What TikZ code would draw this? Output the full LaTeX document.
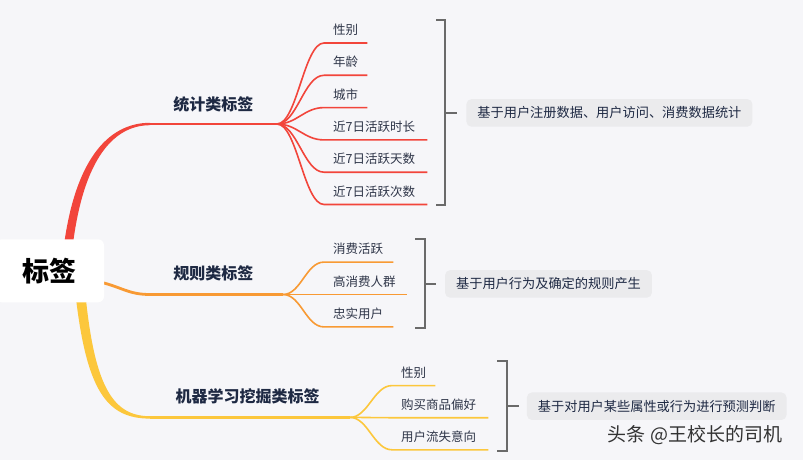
\documentclass[tikz,border=0pt]{standalone}
\usepackage{fontspec}
\newfontfamily\cjk{Noto Sans CJK SC}
\definecolor{bgcol}{HTML}{F6F6F9}
\definecolor{navy}{HTML}{1E2943}
\definecolor{leaftext}{HTML}{2E3548}
\definecolor{tagred}{HTML}{F2453B}
\definecolor{tagorange}{HTML}{F89A34}
\definecolor{tagyellow}{HTML}{FCC73C}
\definecolor{brk}{HTML}{6A6A6A}
\definecolor{notebg}{HTML}{EBEBED}
\tikzset{
  rootbox/.style={fill=white, rounded corners=6pt, minimum width=108pt, minimum height=63pt,
    font=\cjk\bfseries\fontsize{27}{30}\selectfont, text=black},
  branch/.style={font=\cjk\bfseries\fontsize{16}{18}\selectfont, text=navy, inner sep=0pt},
  leaf/.style={font=\cjk\fontsize{12.5}{14}\selectfont, text=leaftext, inner xsep=9pt,
    inner ysep=0pt, minimum height=26pt, text width=#1, align=left, anchor=south west},
  note/.style={font=\cjk\fontsize{13.2}{15}\selectfont, text=navy, fill=notebg,
    rounded corners=5pt, inner xsep=11pt, inner ysep=0pt, minimum height=27.5pt},
  bracket/.style={draw=brk, line width=2pt},
}
\begin{document}
\begin{tikzpicture}[x=1pt, y=-1pt]
  % 背景 (803 x 460)
  \fill[bgcol] (0,0) rectangle (803,460);
  \useasboundingbox (0,0) rectangle (803,460);

  % 主干分支 (根部粗, 末端细)
  \fill[tagred] (62,262) .. controls (72,160) and (108,122.8) .. (150,122.8)
    -- (150,125.2) .. controls (112,125.2) and (80,162) .. (71,262) -- cycle;
  \fill[tagyellow] (75,290) .. controls (86,390) and (106,418.6) .. (150,418.6)
    -- (150,416.2) .. controls (112,416.2) and (94,385) .. (85,290) -- cycle;
  \draw[tagorange, line width=2.8pt] (98,281.5) .. controls (122,287) and (128,294.5) .. (150,294.5);

  % 根节点
  \node[rootbox] (tags) at (50,270.8) {标签};

  % 分支节点与分叉点
  \coordinate (statbend) at (150,124);   \coordinate (statfan) at (277,124);
  \coordinate (rulebend) at (150,294.5); \coordinate (rulefan) at (283,294.5);
  \coordinate (mlbend) at (150,417.4);   \coordinate (mlfan) at (350,417.4);
  \draw[tagred, line width=2.2pt] (statbend) -- (statfan);
  \draw[tagorange, line width=2.2pt] (rulebend) -- (rulefan);
  \draw[tagyellow, line width=2.2pt] (mlbend) -- (mlfan);
  \node[branch] (stat) at (213.3,104) {统计类标签};
  \node[branch] (rule) at (213.3,273.3) {规则类标签};
  \node[branch] (ml) at (247.5,396.7) {机器学习挖掘类标签};

  % 统计类标签的叶子
  \foreach \i/\t/\w in {1/性别/25, 2/年龄/25, 3/城市/25, 4/近7日活跃时长/85,
                        5/近7日活跃天数/85, 6/近7日活跃次数/85} {
    \node[leaf=\w pt] (stat\i) at (324,10.7+32.3*\i) {\t};
    \draw[tagred, line width=1.6pt] (statfan) .. controls +(20,0) and +(-20,0) .. (stat\i.south west)
      -- (stat\i.south east);
  }

  % 规则类标签的叶子
  \foreach \i/\t/\w in {1/消费活跃/51, 2/高消费人群/65, 3/忠实用户/51} {
    \node[leaf=\w pt] (rule\i) at (324,262.1+32.4*\i-32.4) {\t};
    \draw[tagorange, line width=1.6pt] (rulefan) .. controls +(18,0) and +(-18,0) .. (rule\i.south west)
      -- (rule\i.south east);
  }

  % 机器学习挖掘类标签的叶子
  \foreach \i/\t/\w in {1/性别/25, 2/购买商品偏好/78, 3/用户流失意向/78} {
    \node[leaf=\w pt] (ml\i) at (392,353.5+32.1*\i) {\t};
    \draw[tagyellow, line width=1.6pt] (mlfan) .. controls +(18,0) and +(-18,0) .. (ml\i.south west)
      -- (ml\i.south east);
  }

  % 说明框
  \node[note] (statnote) at (609.4,112.9) {基于用户注册数据、用户访问、消费数据统计};
  \node[note] (rulenote) at (548.5,283.9) {基于用户行为及确定的规则产生};
  \node[note] (mlnote) at (656.7,406.2) {基于对用户某些属性或行为进行预测判断};

  % 括号
  \draw[bracket] (436,20) -- (445,20) -- (445,205) -- (436,205);
  \draw[bracket] (445,112.9) -- ([xshift=-9pt]statnote.west);
  \draw[bracket] (415,239) -- (425,239) -- (425,328) -- (415,328);
  \draw[bracket] (425,283.9) -- ([xshift=-9pt]rulenote.west);
  \draw[bracket] (497,361) -- (507,361) -- (507,451) -- (497,451);
  \draw[bracket] (507,406.2) -- ([xshift=-8pt]mlnote.west);

  % 水印
  \node[font=\cjk\fontsize{19}{22}\selectfont, text=black!80] (mark) at (695,435) {头条 @王校长的司机};
\end{tikzpicture}
\end{document}
